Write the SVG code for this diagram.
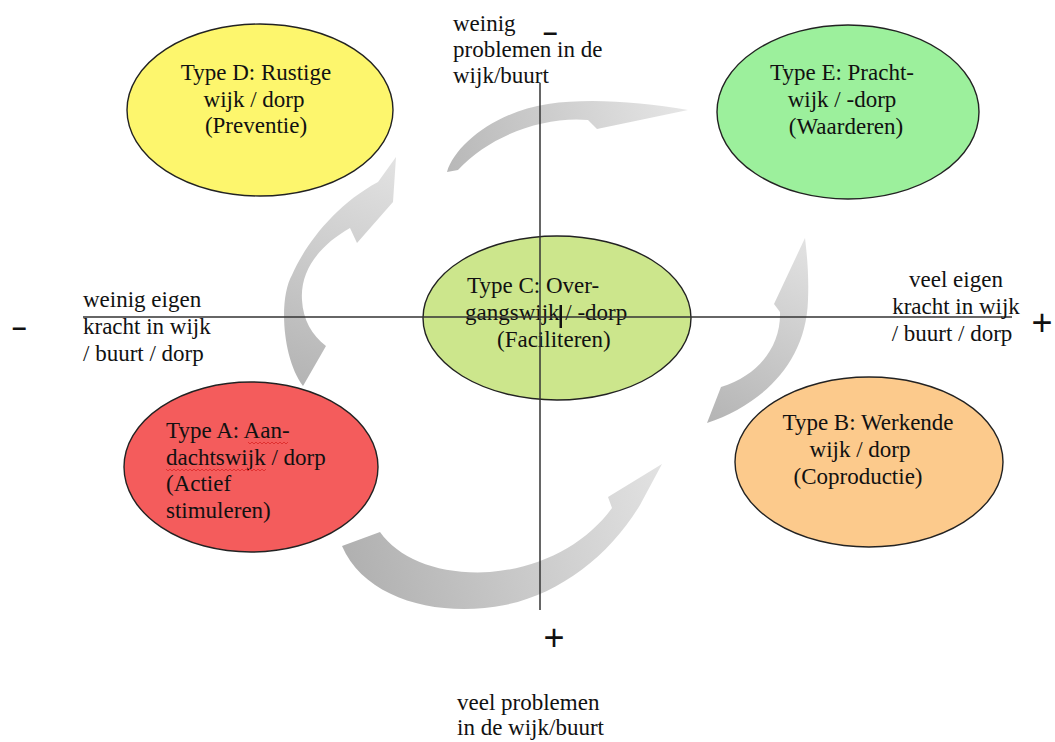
<svg xmlns="http://www.w3.org/2000/svg" width="1055" height="742" viewBox="0 0 1055 742">
<style>
.t{font-family:"Liberation Serif","Times New Roman",serif;font-size:23px;fill:#111}
.m{text-anchor:middle}
.el{stroke:#222;stroke-width:1.4}
.ax{stroke:#333;stroke-width:1.5;fill:none}
.sg{font-family:"Liberation Sans",Arial,sans-serif;fill:#111}
.sq{fill:none;stroke:#e03030;stroke-width:1}
</style>
<defs>
<linearGradient id="gL" gradientUnits="userSpaceOnUse" x1="300" y1="385" x2="395" y2="160"><stop offset="0" stop-color="#b4b4b4"/><stop offset="1" stop-color="#e2e2e2"/></linearGradient>
<linearGradient id="gT" gradientUnits="userSpaceOnUse" x1="448" y1="170" x2="688" y2="110"><stop offset="0" stop-color="#b8b8b8"/><stop offset="1" stop-color="#e6e6e6"/></linearGradient>
<linearGradient id="gR" gradientUnits="userSpaceOnUse" x1="707" y1="423" x2="805" y2="240"><stop offset="0" stop-color="#b4b4b4"/><stop offset="1" stop-color="#e2e2e2"/></linearGradient>
<linearGradient id="gB" gradientUnits="userSpaceOnUse" x1="342" y1="548" x2="662" y2="464"><stop offset="0" stop-color="#b0b0b0"/><stop offset="1" stop-color="#e2e2e2"/></linearGradient>
</defs>
<rect width="1055" height="742" fill="#ffffff"/>
<g id="connectors">
<path id="arrow-A-D" fill="url(#gL)" d="M303,386 C283,360 278,300 292,275 C305,245 335,205 378,182 L396,157 L393,202 L357,243 L350,228 C320,245 300,270 302,300 C303,320 312,335 326,346 Z"/>
<path id="arrow-D-E" fill="url(#gT)" d="M447,172 C455,145 495,112 548,104 C590,98 640,102 688,110 L597,129 L588,120 C545,116 490,135 458,170 Z"/>
<path id="arrow-B-E" fill="url(#gR)" d="M707,423 C760,405 806,365 808,300 C809,275 807,255 805,238 L774,304 L780,312 C781,345 760,375 721,387 Z"/>
<path id="arrow-A-B" fill="url(#gB)" d="M342,546 C365,600 440,618 505,605 C560,594 610,555 640,505 L662,464 L608,497 L612,508 C585,545 540,568 490,572 C440,575 400,560 380,532 Z"/>
</g>
<g id="node-D">
<ellipse class="el" cx="260" cy="110" rx="133" ry="86" fill="#fdf66d"/>
<text class="t m" x="256" y="80">Type D: Rustige</text>
<text class="t m" x="254" y="107">wijk / dorp</text>
<text class="t m" x="256" y="133">(Preventie)</text>
</g>
<g id="node-E">
<ellipse class="el" cx="848" cy="112" rx="131" ry="87" fill="#9cf09c"/>
<text class="t m" x="842" y="80">Type E: Pracht-</text>
<text class="t m" x="842" y="107">wijk / -dorp</text>
<text class="t m" x="846" y="134">(Waarderen)</text>
</g>
<g id="node-C">
<ellipse class="el" cx="557" cy="318" rx="134" ry="82" fill="#cce68c"/>
<text class="t" x="467" y="293">Type C: Over-</text>
<text class="t" x="465" y="320">gangswijk / -dorp</text>
<text class="t" x="497" y="347">(Faciliteren)</text>
</g>
<g id="node-A">
<ellipse class="el" cx="251" cy="467" rx="127" ry="85" fill="#f45c5c"/>
<text class="t" x="166" y="438">Type A: Aan-</text>
<text class="t" x="166" y="465">dachtswijk / dorp</text>
<text class="t" x="166" y="491">(Actief</text>
<text class="t" x="166" y="518">stimuleren)</text>
<path class="sq" d="M248,442 l2,2 2,-2 2,2 2,-2 2,2 2,-2 2,2 2,-2 2,2 2,-2 2,2 2,-2 2,2 2,-2 2,2 2,-2 2,2 2,-2 2,2 2,-2"/>
<path class="sq" d="M166,469 l2,2 2,-2 2,2 2,-2 2,2 2,-2 2,2 2,-2 2,2 2,-2 2,2 2,-2 2,2 2,-2 2,2 2,-2 2,2 2,-2 2,2 2,-2 2,2 2,-2 2,2 2,-2 2,2 2,-2 2,2 2,-2 2,2 2,-2 2,2 2,-2 2,2 2,-2 2,2 2,-2 2,2 2,-2 2,2 2,-2 2,2 2,-2 2,2 2,-2 2,2 2,-2 2,2 2,-2 2,2 2,-2"/>
</g>
<g id="node-B">
<ellipse class="el" cx="869" cy="462" rx="134" ry="85" fill="#fcca8c"/>
<text class="t m" x="868" y="430">Type B: Werkende</text>
<text class="t m" x="860" y="457">wijk / dorp</text>
<text class="t m" x="858" y="484">(Coproductie)</text>
</g>
<g id="axes">
<line class="ax" x1="83" y1="317" x2="1012" y2="317"/>
<line class="ax" x1="540" y1="83" x2="540" y2="610"/>
<rect x="559.5" y="305" width="2.5" height="23" fill="#111"/>
</g>
<g id="labels">
<text class="t" x="453" y="31">weinig</text>
<text class="t" x="453" y="57">problemen in de</text>
<text class="t" x="453" y="83">wijk/buurt</text>
<text class="t" x="83" y="307">weinig eigen</text>
<text class="t" x="83" y="334">kracht in wijk</text>
<text class="t" x="83" y="361">/ buurt / dorp</text>
<text class="t m" x="956" y="287">veel eigen</text>
<text class="t m" x="956" y="314">kracht in wijk</text>
<text class="t m" x="952" y="341">/ buurt / dorp</text>
<text class="t" x="457" y="710">veel problemen</text>
<text class="t" x="457" y="735">in de wijk/buurt</text>
<text class="sg" x="543" y="41" font-size="26" font-weight="bold">–</text>
<text class="sg" x="12" y="336" font-size="26" font-weight="bold">–</text>
<text class="sg m" x="1042" y="335" font-size="36">+</text>
<text class="sg m" x="554" y="650" font-size="36">+</text>
</g>
</svg>
